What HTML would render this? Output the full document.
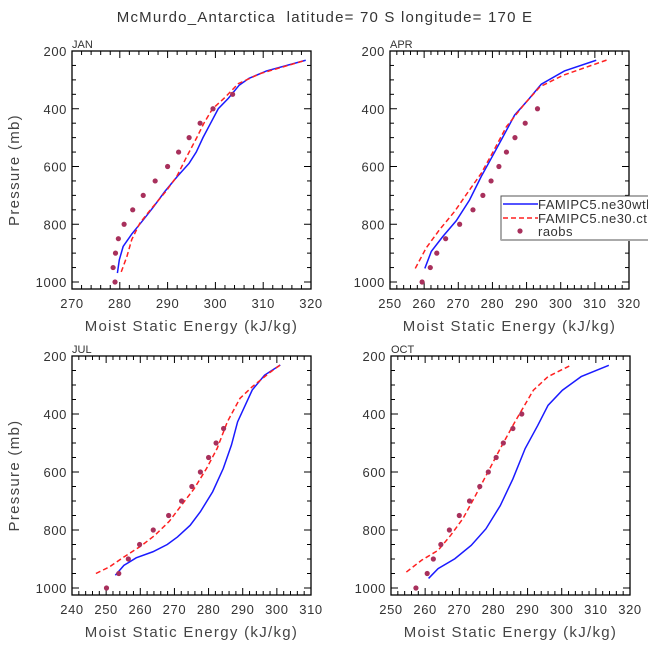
<!DOCTYPE html>
<html><head><meta charset="utf-8"><style>
body{margin:0;background:#fff;}
svg{display:block;font-family:"Liberation Sans",sans-serif;}
</style></head><body>
<svg id="c" width="648" height="649" xmlns="http://www.w3.org/2000/svg">
<text x="325" y="22" text-anchor="middle" font-size="15" letter-spacing="1.2" fill="#333" xml:space="preserve">McMurdo_Antarctica  latitude= 70 S longitude= 170 E</text>
</svg>
<script>
const levels = [1000,950,900,850,800,750,700,650,600,550,500,450,400,350];
const janObs = [279,278.6,279.1,279.7,280.9,282.7,284.9,287.4,290,292.3,294.5,296.8,299.5,303.6];
const janBlueP = [969,923,877,834,785,741,687,635,589,550,500,450,400,364,318,295,269,232];
const janBlueE = [279.5,279.9,280.7,282.5,284.9,287,289.4,292,294.5,296,297.4,299,300.6,302.7,305,307,310.7,318.9];
const janRedP = [965,911,853,796,744,687,635,566,500,450,400,364,313,278,232];
const janRedE = [280.3,281.5,282.5,284.2,286.7,289.6,291.9,294,296.1,297.6,299.4,301.8,304.8,309.4,318.9];
const aprObs = [259.4,261.8,263.7,266.3,270.4,274.3,277.2,279.6,281.9,284.1,286.6,289.6,293.2];
const aprBlueP = [953,894,842,788,716,635,560,497,422,370,315,269,232];
const aprBlueE = [260.2,262.1,265.5,269.4,273.3,276.7,280.2,283.1,286.5,290.4,294.3,301.1,310.4];
const aprRedP = [953,882,819,756,681,624,549,462,382,324,284,230];
const aprRedE = [257.4,260.6,264.5,268.9,273.3,276.7,280.2,284.1,289.5,293.9,300.7,313.8];
const julObs = [250.1,253.7,256.5,259.8,263.8,268.3,272.1,275.1,277.6,280,282.2,284.4];
const julBlueP = [956,922,896,875,850,824,784,737,668,588,507,427,317,266,231];
const julBlueE = [252.7,255.2,258.8,263.7,267.9,270.9,274.6,277.6,281.2,284.3,286.7,288.5,292.8,296.4,301];
const julRedP = [950,927,893,856,818,770,714,657,588,519,427,346,306,260,231];
const julRedE = [247,251,255.2,260.1,264.3,268.5,272.1,275.8,279.4,282.5,285.5,289.2,292.8,297.6,301];
const octObs = [257.3,260.6,262.4,264.6,267.1,270,273,276,278.5,280.8,282.9,285.7,288.3];
const octBlueP = [967,933,899,853,796,716,624,519,439,370,318,271,232];
const octBlueE = [261,263.8,268.7,273.5,277.8,282,285.7,289.3,293,296,300.2,305.7,313.8];
const octRedP = [945,904,870,818,760,680,600,519,427,318,271,230];
const octRedE = [254.5,259,263.8,267.5,271.1,274.8,278.4,282,286.3,291.7,296,303];

const NS='http://www.w3.org/2000/svg';
const svg=document.getElementById('c');
function mk(tag,attrs,parent){const e=document.createElementNS(NS,tag);for(const k in attrs)e.setAttribute(k,attrs[k]);(parent||svg).appendChild(e);return e;}

const panels=[
 {name:'jan',label:'JAN',x0:72,x1:311,top:51,y1000:282,bot:289,xmin:270,xmax:320,obs:janObs,bp:janBlueP,be:janBlueE,rp:janRedP,re:janRedE,ytitle:true},
 {name:'apr',label:'APR',x0:390,x1:629,top:51,y1000:282,bot:289,xmin:250,xmax:320,obs:aprObs,bp:aprBlueP,be:aprBlueE,rp:aprRedP,re:aprRedE,ytitle:false},
 {name:'jul',label:'JUL',x0:72,x1:311,top:356,y1000:588,bot:595,xmin:240,xmax:310,obs:julObs,bp:julBlueP,be:julBlueE,rp:julRedP,re:julRedE,ytitle:true},
 {name:'oct',label:'OCT',x0:391,x1:630,top:356,y1000:588,bot:595,xmin:250,xmax:320,obs:octObs,bp:octBlueP,be:octBlueE,rp:octRedP,re:octRedE,ytitle:false}
];

panels.forEach(P=>{
 const g=mk('g',{});
 
 
 const xs=E=>P.x0+(E-P.xmin)*(P.x1-P.x0)/(P.xmax-P.xmin);
 const ys=p=>P.top+(p-200)*(P.y1000-P.top)/800;
 const frame=mk('rect',{x:P.x0,y:P.top,width:P.x1-P.x0,height:P.bot-P.top,fill:'none',stroke:'#000','stroke-width':1.3},g);
 
 
 for(let v=P.xmin;v<=P.xmax+0.01;v+=2){
  const major=(v%10===0), L=major?7:4, x=xs(v);
  mk('line',{x1:x,y1:P.bot,x2:x,y2:P.bot-L,stroke:'#000','stroke-width':1},g);
  mk('line',{x1:x,y1:P.top,x2:x,y2:P.top+L,stroke:'#000','stroke-width':1},g);
  if(major){const t=mk('text',{x:x,y:P.bot+19,'text-anchor':'middle','font-size':13,'letter-spacing':0.6,fill:'#333'},g);t.textContent=v;
   
   }
 }
 for(let p=200;p<=1000;p+=50){
  const major=(p%200===0), L=major?7:4, y=ys(p);
  mk('line',{x1:P.x0,y1:y,x2:P.x0+L,y2:y,stroke:'#000','stroke-width':1},g);
  mk('line',{x1:P.x1,y1:y,x2:P.x1-L,y2:y,stroke:'#000','stroke-width':1},g);
  if(major){const t=mk('text',{x:P.x0-5,y:y+5,'text-anchor':'end','font-size':13,'letter-spacing':0.6,fill:'#333'},g);t.textContent=p;
   
   }
 }
 const lab=mk('text',{x:P.x0,y:P.top-3,'font-size':11,fill:'#333'},g);lab.textContent=P.label;
 
 
 const xt=mk('text',{x:(P.x0+P.x1)/2,y:P.bot+42,'text-anchor':'middle','font-size':15,'letter-spacing':1.3,fill:'#444'},g);xt.textContent='Moist Static Energy (kJ/kg)';
 
 
 if(P.ytitle){const cy=(P.top+P.bot)/2;const yt=mk('text',{x:19,y:cy,'text-anchor':'middle','font-size':15,'letter-spacing':1.3,fill:'#444',transform:'rotate(-90 19 '+cy+')'},g);yt.textContent='Pressure (mb)';
  
  }
 const bl=mk('polyline',{points:P.bp.map((p,i)=>xs(P.be[i])+','+ys(p)).join(' '),fill:'none',stroke:'#1a1aff','stroke-width':1.5},g);
 
 
 const rl=mk('polyline',{points:P.rp.map((p,i)=>xs(P.re[i])+','+ys(p)).join(' '),fill:'none',stroke:'#ff2020','stroke-width':1.5,'stroke-dasharray':'5,3'},g);
 
 
 P.obs.forEach((e,i)=>{const c=mk('circle',{cx:xs(e),cy:ys(levels[i]),r:2.6,fill:'#a8305c'},g);
  
  });
});

const lg=mk('g',{});


mk('rect',{x:501,y:196,width:160,height:44,fill:'#fff',stroke:'#555','stroke-width':1},lg);
mk('line',{x1:501,y1:240,x2:648,y2:240,stroke:'#aaa','stroke-width':2},lg);
mk('line',{x1:503,y1:204,x2:538,y2:204,stroke:'#1a1aff','stroke-width':1.5},lg);
mk('line',{x1:503,y1:218,x2:538,y2:218,stroke:'#ff2020','stroke-width':1.5,'stroke-dasharray':'5,3'},lg);
mk('circle',{cx:520,cy:231,r:2.6,fill:'#a8305c'},lg);
[['FAMIPC5.ne30wtl',209],['FAMIPC5.ne30.ctl',223],['raobs',236]].forEach(a=>{const t=mk('text',{x:538,y:a[1],'font-size':13,'letter-spacing':0.5,fill:'#333'},lg);t.textContent=a[0];
 
 });
</script>
</body></html>
